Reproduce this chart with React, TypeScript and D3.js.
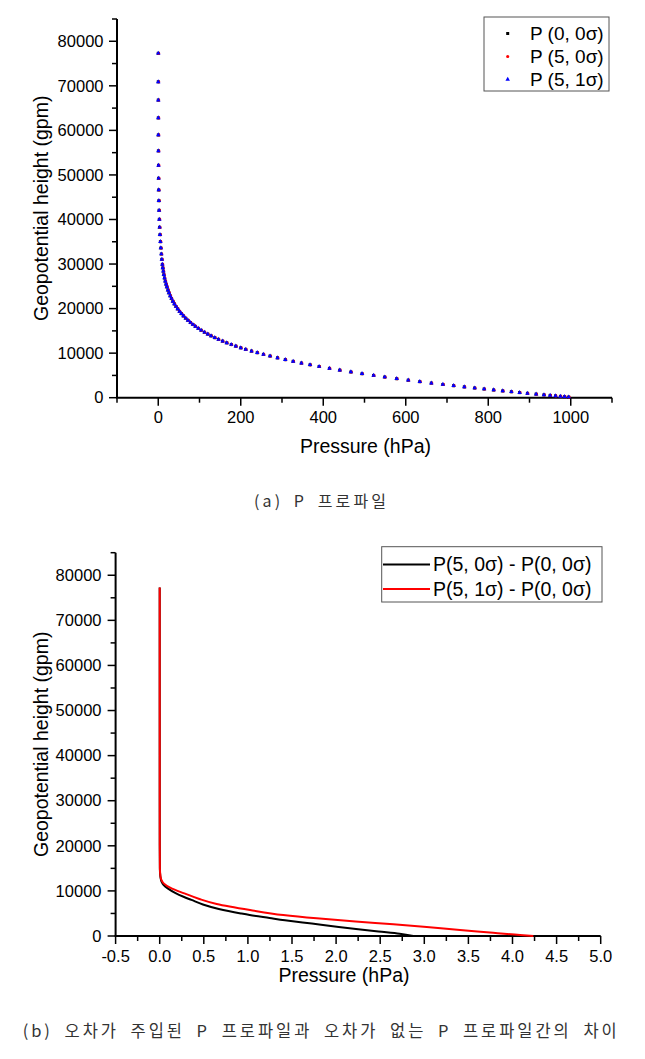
import React from 'react';
import * as d3 from 'd3';

// ---------- Data ----------
// (a) P profile: pressure (hPa) vs geopotential height (gpm)
const pressureHPa = [
  995, 985, 975, 963, 950, 935, 916, 895, 876, 856, 835, 813, 790, 767, 742, 716, 690, 662, 634, 606,
  578, 549, 522, 494, 467, 440, 415, 390, 368, 347, 327, 308, 289, 271, 255, 240, 226, 212, 200, 188,
  177, 166, 156, 146, 137, 128, 120, 112, 104, 97, 90, 84, 78, 72, 66.5, 61, 56, 51.5, 47, 43,
  39, 35.5, 32, 29, 26, 23.5, 21, 19, 17, 15.2, 13.5, 12.3, 11.0, 9.9, 8.7, 7.5, 6.3, 5.2, 4.2, 3.3,
  2.6, 2.0, 1.5, 1.1, 0.8, 0.55, 0.36, 0.22, 0.13, 0.072, 0.038, 0.013,
];
const heightGpm = [
  145, 226, 307, 406, 513, 639, 801, 983, 1150, 1330, 1523, 1728, 1948, 2174, 2424, 2693, 2970, 3277, 3595, 3924,
  4266, 4636, 4994, 5381, 5772, 6182, 6580, 6997, 7383, 7769, 8155, 8540, 8943, 9347, 9724, 10096, 10459, 10843, 11195, 11567,
  11931, 12318, 12692, 13091, 13474, 13883, 14273, 14688, 15134, 15554, 16006, 16421, 16867, 17350, 17829, 18348, 18864, 19369, 19922, 20460,
  21054, 21625, 22257, 22865, 23537, 24159, 24854, 25477, 26169, 26869, 27616, 28400, 29150, 29930, 31050, 32250, 33600, 35020, 36600, 38250,
  40040, 42060, 44220, 46620, 49250, 52160, 55400, 58970, 62800, 66800, 70900, 77300,
];

// (b) differences (hPa) vs height (gpm)
const diffHeightBlack = [0, 500, 1000, 1500, 2000, 2500, 3000, 3500, 4000, 4650, 5000, 6000, 7000, 8000, 8700, 9500, 10500, 11300, 12000, 13000, 14000, 15000, 20000, 30000, 50000, 77300];
const diffBlack = [2.875, 2.72, 2.48, 2.25, 2.03, 1.83, 1.62, 1.42, 1.245, 1.02, 0.92, 0.67, 0.49, 0.36, 0.27, 0.18, 0.095, 0.045, 0.022, 0.009, 0.004, 0.002, 0.0006, 0.0002, 0.0001, 0];
const diffHeightRed = [0, 221, 738, 1329, 1993, 2583, 3200, 3912, 4650, 5757, 7086, 8200, 9455, 10500, 11670, 12500, 13000, 14000, 15000, 20000, 30000, 50000, 77300];
const diffRed = [4.236, 4.085, 3.78, 3.405, 3.027, 2.649, 2.22, 1.78, 1.401, 1.024, 0.646, 0.45, 0.28, 0.14, 0.045, 0.018, 0.011, 0.005, 0.002, 0.0006, 0.0002, 0.0001, 0];

// ticks
const topXMajor = [0, 200, 400, 600, 800, 1000];
const topXMinor = [-100, 100, 300, 500, 700, 900, 1100];
const yMajor = [0, 10000, 20000, 30000, 40000, 50000, 60000, 70000, 80000];
const yMinor = [5000, 15000, 25000, 35000, 45000, 55000, 65000, 75000, 85000];
const botXMajor = [-0.5, 0, 0.5, 1.0, 1.5, 2.0, 2.5, 3.0, 3.5, 4.0, 4.5, 5.0];
const botXMinor = [-0.25, 0.25, 0.75, 1.25, 1.75, 2.25, 2.75, 3.25, 3.75, 4.25, 4.75];

const legendTop = ['P (0, 0\u03c3)', 'P (5, 0\u03c3)', 'P (5, 1\u03c3)'];
const legendBottom = ['P(5, 0\u03c3) - P(0, 0\u03c3)', 'P(5, 1\u03c3) - P(0, 0\u03c3)'];
const captionA = '(a) P 프로파일';
const captionB = '(b) 오차가 주입된 P 프로파일과 오차가 없는 P 프로파일간의 차이';

const FONT = "'Liberation Sans', Arial, Helvetica, sans-serif";
const KFONT = "'Noto Sans CJK KR', sans-serif";

type AxisProps = {
  x: d3.ScaleLinear<number, number>;
  y: d3.ScaleLinear<number, number>;
  xMajor: number[];
  xMinor: number[];
  xFmt: (v: number) => string;
  yLabelX: number;
  xLabelY: number;
};

function Axes({ x, y, xMajor, xMinor, xFmt, yLabelX, xLabelY }: AxisProps) {
  const [x0, x1] = x.range();
  const [y0, y1] = y.range();
  const MAJ = 7;
  const MIN = 4;
  return (
    <g>
      <line x1={x0} x2={x0} y1={y1} y2={y0} stroke="#000" strokeWidth={2} />
      <line x1={x0 - 1} x2={x1} y1={y0} y2={y0} stroke="#000" strokeWidth={2} />
      {yMajor.map((v) => (
        <g key={'ym' + v}>
          <line x1={x0 - MAJ - 1} x2={x0} y1={y(v)} y2={y(v)} stroke="#000" strokeWidth={1.5} />
          <text x={yLabelX} y={y(v)} dy="0.35em" textAnchor="end" fontFamily={FONT} fontSize={16.5} fill="#000">
            {v}
          </text>
        </g>
      ))}
      {yMinor.map((v) => (
        <line key={'yn' + v} x1={x0 - MIN - 1} x2={x0} y1={y(v)} y2={y(v)} stroke="#000" strokeWidth={1.5} />
      ))}
      {xMajor.map((v) => (
        <g key={'xm' + v}>
          <line x1={x(v)} x2={x(v)} y1={y0} y2={y0 + MAJ + 1} stroke="#000" strokeWidth={1.5} />
          <text x={x(v)} y={xLabelY} textAnchor="middle" fontFamily={FONT} fontSize={16.5} fill="#000">
            {xFmt(v)}
          </text>
        </g>
      ))}
      {xMinor.map((v) => (
        <line key={'xn' + v} x1={x(v)} x2={x(v)} y1={y0} y2={y0 + MIN + 1} stroke="#000" strokeWidth={1.5} />
      ))}
    </g>
  );
}

export default function App() {
  // --- top chart scales
  const xTop = d3.scaleLinear().domain([-100, 1100]).range([117, 612]);
  const yTop = d3.scaleLinear().domain([0, 85000]).range([397.7, 19]);
  // --- bottom chart scales
  const xBot = d3.scaleLinear().domain([-0.5, 5.0]).range([115.6, 600.7]);
  const yBot = d3.scaleLinear().domain([0, 85000]).range([936, 552.7]);

  const sq = d3.symbol(d3.symbolSquare, 9)()!;
  const circ = d3.symbol(d3.symbolCircle, 8)()!;
  const tri = d3.symbol(d3.symbolTriangle, 9)()!;

  const profile = pressureHPa.map((p, i) => ({ p, h: heightGpm[i] }));
  const blackPts = diffBlack.map((v, i) => ({ v, h: diffHeightBlack[i] }));
  const redPts = diffRed.map((v, i) => ({ v, h: diffHeightRed[i] }));

  const lineGen = d3
    .line<{ v: number; h: number }>()
    .x((d) => xBot(d.v))
    .y((d) => yBot(d.h))
    .curve(d3.curveMonotoneY);

  return (
    <svg
      width={645}
      height={1059}
      style={{ position: 'absolute', left: 0, top: 0, background: '#fff' }}
      xmlns="http://www.w3.org/2000/svg"
    >
      <rect x={0} y={0} width={645} height={1059} fill="#fff" />

      {/* ===== (a) ===== */}
      <Axes x={xTop} y={yTop} xMajor={topXMajor} xMinor={topXMinor} xFmt={(v) => String(v)} yLabelX={103.5} xLabelY={423.3} />
      <g>
        {profile.map((d, i) => (
          <path key={'b' + i} d={sq} transform={`translate(${xTop(d.p)},${yTop(d.h)})`} fill="#000" />
        ))}
        {profile.map((d, i) => (
          <path key={'r' + i} d={circ} transform={`translate(${xTop(d.p) + 0.4},${yTop(d.h)})`} fill="#ff0000" />
        ))}
        {profile.map((d, i) => (
          <path key={'t' + i} d={tri} transform={`translate(${xTop(d.p)},${yTop(d.h)})`} fill="#0000ff" />
        ))}
      </g>
      <text transform="translate(47.5,208.3) rotate(-90)" textAnchor="middle" fontFamily={FONT} fontSize={19.5} fill="#000">
        Geopotential height (gpm)
      </text>
      <text x={365.5} y={453} textAnchor="middle" fontFamily={FONT} fontSize={19.5} fill="#000">
        Pressure (hPa)
      </text>
      {/* legend top */}
      <rect x={484} y={17} width={125} height={74} fill="#fff" stroke="#555" strokeWidth={1} />
      {legendTop.map((t, i) => {
        const ly = 33.5 + i * 23;
        const sym = i === 0 ? sq : i === 1 ? circ : tri;
        const col = i === 0 ? '#000' : i === 1 ? '#ff0000' : '#0000ff';
        return (
          <g key={'lt' + i}>
            <path d={sym} transform={`translate(507.7,${ly})`} fill={col} />
            <text x={530} y={ly} dy="0.35em" fontFamily={FONT} fontSize={19} fill="#000">
              {t}
            </text>
          </g>
        );
      })}

      <text x={320} y={507} textAnchor="middle" fontFamily={KFONT} fontSize={16} fill="#333" wordSpacing={4} textLength={132} lengthAdjust="spacing">
        {captionA}
      </text>

      {/* ===== (b) ===== */}
      <Axes x={xBot} y={yBot} xMajor={botXMajor} xMinor={botXMinor} xFmt={(v) => v.toFixed(1)} yLabelX={101.5} xLabelY={961.7} />
      <path d={lineGen(blackPts) || ''} fill="none" stroke="#000" strokeWidth={2} />
      <path d={lineGen(redPts) || ''} fill="none" stroke="#ff0000" strokeWidth={2} />
      <text transform="translate(47.5,744.3) rotate(-90)" textAnchor="middle" fontFamily={FONT} fontSize={19.5} fill="#000">
        Geopotential height (gpm)
      </text>
      <text x={344} y={982} textAnchor="middle" fontFamily={FONT} fontSize={19.5} fill="#000">
        Pressure (hPa)
      </text>
      {/* legend bottom */}
      <rect x={381.7} y={546.7} width={220.3} height={55.3} fill="#fff" stroke="#555" strokeWidth={1} />
      {legendBottom.map((t, i) => {
        const ly = 564.5 + i * 24.5;
        return (
          <g key={'lb' + i}>
            <line x1={383} x2={430} y1={ly} y2={ly} stroke={i === 0 ? '#000' : '#ff0000'} strokeWidth={2} />
            <text x={433} y={ly} dy="0.35em" fontFamily={FONT} fontSize={19.5} fill="#000">
              {t}
            </text>
          </g>
        );
      })}

      <text x={22.7} y={1037} fontFamily={KFONT} fontSize={16.5} fill="#333" wordSpacing={5} textLength={594} lengthAdjust="spacing">
        {captionB}
      </text>
    </svg>
  );
}
